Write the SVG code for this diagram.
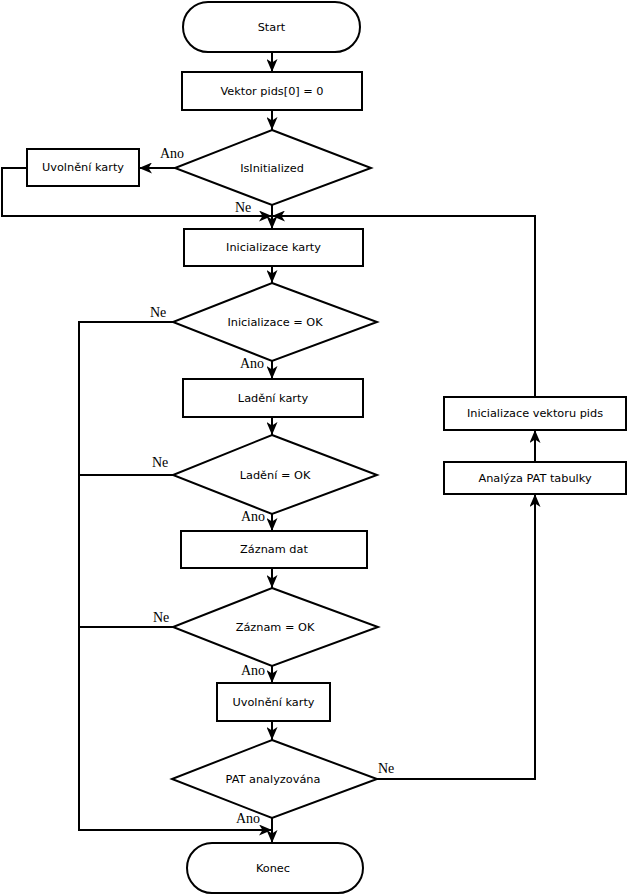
<svg xmlns="http://www.w3.org/2000/svg" width="628" height="896" viewBox="0 0 628 896">
<style>
.s{fill:#fff;stroke:#000;stroke-width:2}
.t{font-family:"DejaVu Sans",sans-serif;font-size:11.3px;fill:#000;text-anchor:middle;dominant-baseline:central}
.l{font-family:"Liberation Serif",serif;font-size:14px;fill:#000}
.c{fill:none;stroke:#000;stroke-width:2}
</style>
<defs>
<marker id="a" viewBox="0 0 13 11" markerWidth="13" markerHeight="11" refX="13" refY="5.5" orient="auto" markerUnits="userSpaceOnUse">
<path d="M0,0 L13,5.5 L0,11 L3.5,5.5 Z" fill="#000"/>
</marker>
</defs>
<rect width="628" height="896" fill="#fff"/>
<g id="connectors">
<path class="c" d="M272,52 V72" marker-end="url(#a)"/>
<path class="c" d="M272,110 V130" marker-end="url(#a)"/>
<path class="c" d="M175,168 H139" marker-end="url(#a)"/>
<path class="c" d="M27,168 H2 V216 H272" marker-end="url(#a)"/>
<path class="c" d="M272,205 V229" marker-end="url(#a)"/>
<path class="c" d="M535,397 V216 H272" marker-end="url(#a)"/>
<path class="c" d="M272,266 V283" marker-end="url(#a)"/>
<path class="c" d="M173,322 H79 V830 H272" marker-end="url(#a)"/>
<path class="c" d="M272,361 V379" marker-end="url(#a)"/>
<path class="c" d="M272,417 V435" marker-end="url(#a)"/>
<path class="c" d="M173,475 H79"/>
<path class="c" d="M272,514 V531" marker-end="url(#a)"/>
<path class="c" d="M272,568 V588" marker-end="url(#a)"/>
<path class="c" d="M173,627 H79"/>
<path class="c" d="M272,666 V683" marker-end="url(#a)"/>
<path class="c" d="M272,721 V740" marker-end="url(#a)"/>
<path class="c" d="M272,818 V843" marker-end="url(#a)"/>
<path class="c" d="M377,779 H535 V494" marker-end="url(#a)"/>
<path class="c" d="M535,462 V430" marker-end="url(#a)"/>
</g>
<g id="labels">
<text class="l" x="160" y="158">Ano</text>
<text class="l" x="235" y="212">Ne</text>
<text class="l" x="150" y="317">Ne</text>
<text class="l" x="240" y="368">Ano</text>
<text class="l" x="152" y="467">Ne</text>
<text class="l" x="241" y="521">Ano</text>
<text class="l" x="153" y="622">Ne</text>
<text class="l" x="241" y="675">Ano</text>
<text class="l" x="378" y="773">Ne</text>
<text class="l" x="236" y="823">Ano</text>
</g>
<g id="start"><rect class="s" x="183" y="2" width="177" height="50" rx="25" ry="25"/><text class="t" x="271.5" y="27">Start</text></g>
<g id="vektor"><rect class="s" x="182" y="72" width="180" height="38"/><text class="t" x="272" y="91">Vektor pids[0] = 0</text></g>
<g id="isinit"><polygon class="s" points="272,130 371,168 272,205 175,168"/><text class="t" x="272" y="168">IsInitialized</text></g>
<g id="uvolneni1"><rect class="s" x="27" y="149" width="112" height="37"/><text class="t" x="83" y="167.5">Uvolnění karty</text></g>
<g id="initkarty"><rect class="s" x="184" y="229" width="179" height="37"/><text class="t" x="273.5" y="247.5">Inicializace karty</text></g>
<g id="initok"><polygon class="s" points="272,283 377,322 272,361 173,322"/><text class="t" x="275" y="322">Inicializace = OK</text></g>
<g id="ladeni"><rect class="s" x="183" y="379" width="180" height="38"/><text class="t" x="273" y="398">Ladění karty</text></g>
<g id="ladeniok"><polygon class="s" points="272,435 377,475 272,514 173,475"/><text class="t" x="275" y="475">Ladění = OK</text></g>
<g id="zaznam"><rect class="s" x="181" y="531" width="186" height="37"/><text class="t" x="274" y="549.5">Záznam dat</text></g>
<g id="zaznamok"><polygon class="s" points="272,588 378,627 272,666 173,627"/><text class="t" x="275" y="627">Záznam = OK</text></g>
<g id="uvolneni2"><rect class="s" x="217" y="683" width="113" height="38"/><text class="t" x="273.5" y="702">Uvolnění karty</text></g>
<g id="pat"><polygon class="s" points="272,740 377,779 272,818 172,779"/><text class="t" x="273" y="779">PAT analyzována</text></g>
<g id="konec"><rect class="s" x="187" y="843" width="176" height="50" rx="25" ry="25"/><text class="t" x="273" y="868">Konec</text></g>
<g id="initvektor"><rect class="s" x="444" y="397" width="182" height="33"/><text class="t" x="535" y="413.5">Inicializace vektoru pids</text></g>
<g id="analyza"><rect class="s" x="444" y="462" width="182" height="32"/><text class="t" x="535" y="478">Analýza PAT tabulky</text></g>
</svg>
